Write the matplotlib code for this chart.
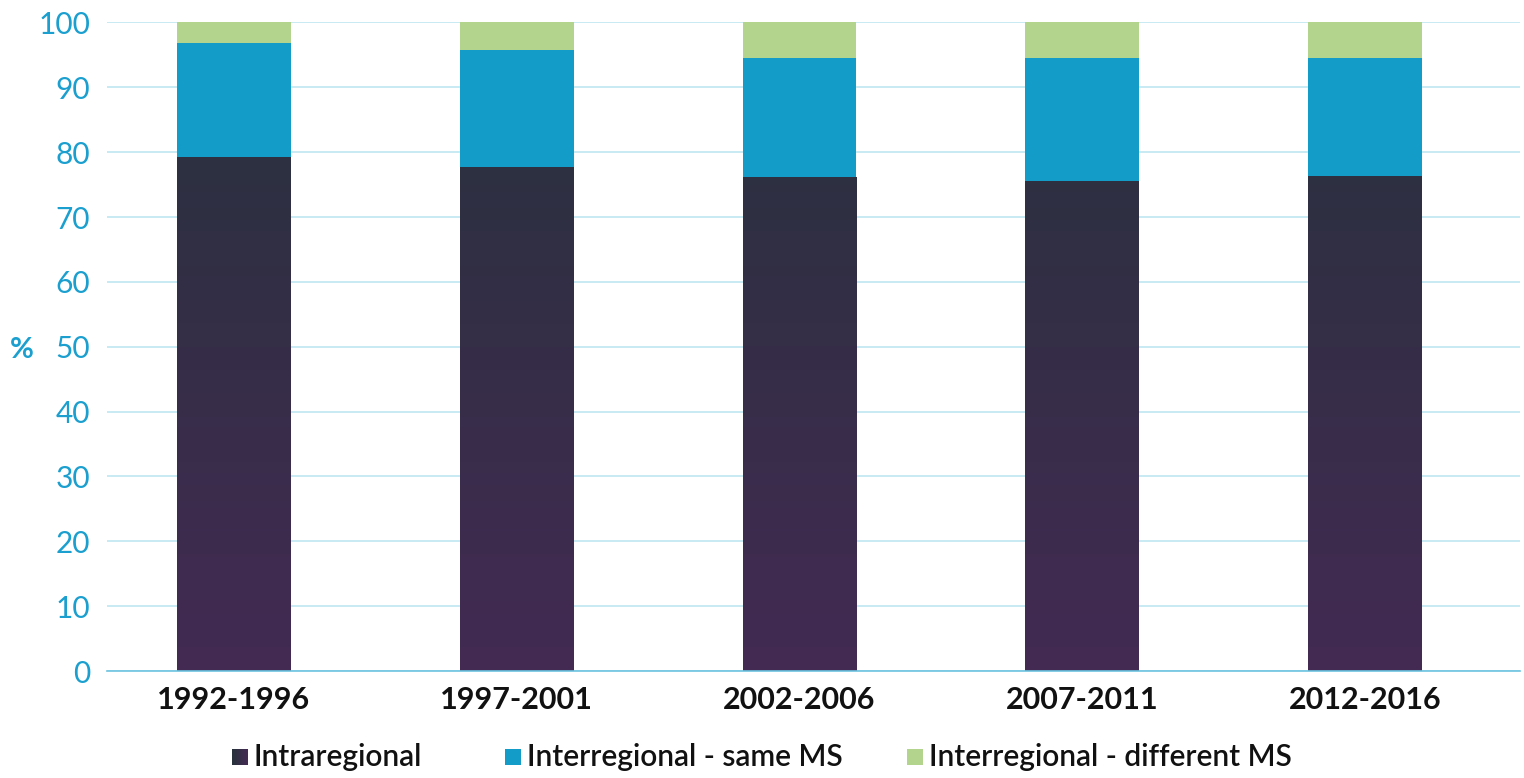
import numpy as np
import matplotlib
matplotlib.use("Agg")
import matplotlib.pyplot as plt
from matplotlib.colors import LinearSegmentedColormap
from matplotlib.patches import Rectangle

periods = ["1992-1996", "1997-2001", "2002-2006", "2007-2011", "2012-2016"]
intraregional = [79.2, 77.7, 76.1, 75.5, 76.3]
inter_same_ms = [17.6, 18.0, 18.5, 19.0, 18.3]
inter_diff_ms = [3.2, 4.3, 5.4, 5.5, 5.4]
series_names = ["Intraregional", "Interregional - same MS", "Interregional - different MS"]
yticks = [0, 10, 20, 30, 40, 50, 60, 70, 80, 90, 100]

FONT = ["Lato", "DejaVu Sans"]
TICK_BLUE = "#1a9fcf"
GRID_BLUE = "#bfe5f1"
C_TOP = "#27323c"
C_BOTTOM = "#432a53"
C_BLUE = "#139cc8"
C_GREEN = "#b3d48c"

grad_cmap = LinearSegmentedColormap.from_list("intra", [C_BOTTOM, C_TOP])

fig = plt.figure(figsize=(15.24, 7.78), dpi=100)
ax = fig.add_axes([0.0702, 0.1375, 0.9272, 0.8336])

x = np.arange(len(periods))
width = 0.403

# intraregional share: gradient-filled bars
bars = ax.bar(x, intraregional, width, color="none", edgecolor="none", zorder=3)
grad = np.linspace(0, 1, 256).reshape(-1, 1)
for b in bars:
    x0, y0 = b.get_x(), b.get_y()
    w, h = b.get_width(), b.get_height()
    im = ax.imshow(grad, extent=[x0, x0 + w, 0, 100], origin="lower",
                   cmap=grad_cmap, aspect="auto", zorder=3, interpolation="bilinear")
    clip = Rectangle((x0, y0), w, h, transform=ax.transData)
    im.set_clip_path(clip)

bottom2 = np.array(intraregional)
ax.bar(x, inter_same_ms, width, bottom=bottom2, color=C_BLUE, zorder=3)
bottom3 = bottom2 + np.array(inter_same_ms)
ax.bar(x, inter_diff_ms, width, bottom=bottom3, color=C_GREEN, zorder=3)

ax.set_xlim(-0.449, 4.548)
ax.set_ylim(0, 100)
ax.set_yticks(yticks)
ax.set_yticklabels([str(v) for v in yticks], fontsize=21.5, color=TICK_BLUE, family=FONT)
ax.set_xticks(x)
ax.set_xticklabels(periods, fontsize=22, fontweight="bold", color="#111111", family=FONT)
ax.tick_params(axis="y", length=0, pad=12)
ax.tick_params(axis="x", length=0, pad=11)
ax.yaxis.grid(True, color=GRID_BLUE, linewidth=1.2, zorder=0)
ax.set_axisbelow(True)
for s in ["top", "right", "left"]:
    ax.spines[s].set_visible(False)
ax.spines["bottom"].set_color("#6cc3e0")
ax.spines["bottom"].set_linewidth(1.2)
ax.spines["bottom"].set_zorder(4)

fig.text(22 / 1524, 1 - 350 / 778, "%", fontsize=21, fontweight="bold",
         color=TICK_BLUE, family=FONT, ha="center", va="center")

# legend drawn in figure pixels
W, H = 1524, 778
sq = 16
ly = 757
legend_x = [232, 505, 907]
for i, (lx, name) in enumerate(zip(legend_x, series_names)):
    if i == 0:
        n = 16
        for k in range(n):
            c = grad_cmap(1 - k / (n - 1))
            fig.patches.append(Rectangle(((lx + k * sq / n) / W, 1 - (ly + sq / 2) / H),
                                         (sq / n + 0.3) / W, sq / H,
                                         transform=fig.transFigure, color=c, lw=0))
    else:
        col = C_BLUE if i == 1 else C_GREEN
        fig.patches.append(Rectangle((lx / W, 1 - (ly + sq / 2) / H), sq / W, sq / H,
                                     transform=fig.transFigure, color=col, lw=0))
    fig.text((lx + sq + 6) / W, 1 - ly / H, name, fontsize=21.5, color="#111111",
             family=FONT, ha="left", va="center", fontweight="semibold")

fig.savefig("out.png", dpi=100)
